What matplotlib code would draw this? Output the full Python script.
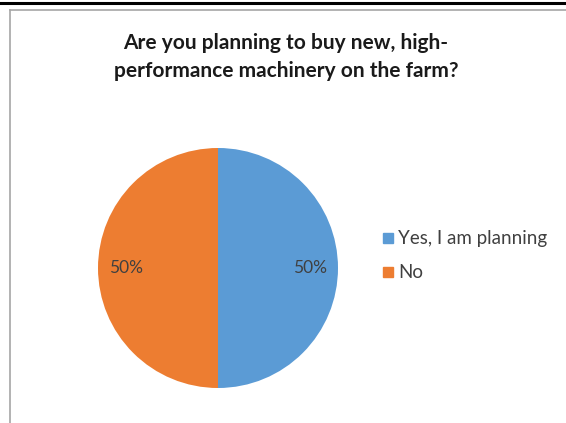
import matplotlib.pyplot as plt
from matplotlib.lines import Line2D

plt.rcParams['font.family'] = ['Lato', 'DejaVu Sans']

labels = ['Yes, I am planning', 'No']
shares = [50, 50]
colors = ['#5B9BD5', '#ED7D31']
title = 'Are you planning to buy new, high-\nperformance machinery on the farm?'

W, H = 566, 423
fig = plt.figure(figsize=(W / 100, H / 100), dpi=100)

# frame lines around the chart area
fig.add_artist(Line2D([0, 1], [1 - 3 / H, 1 - 3 / H], color='black', lw=2.2))
fig.add_artist(Line2D([10 / W, 1], [1 - 10 / H, 1 - 10 / H], color='#a6a6a6', lw=1.2))
fig.add_artist(Line2D([10 / W, 10 / W], [0, 1 - 10 / H], color='#a6a6a6', lw=1.2))

fig.text(286 / W, 1 - 57 / H, title, ha='center', va='center', fontsize=15,
         fontweight='bold', color='#1a1a1a', linespacing=1.5)

# pie: center (218, 268) px, radius 120 px
cx, cy, r = 218, 268, 120
ax = fig.add_axes([(cx - r) / W, (H - cy - r) / H, 2 * r / W, 2 * r / H])
wedges, texts, autotexts = ax.pie(shares, colors=colors, startangle=90, counterclock=False,
                                  autopct='%1.0f%%', pctdistance=0.77,
                                  textprops={'fontsize': 12.5, 'color': '#404040'})
ax.set_xlim(-1, 1)
ax.set_ylim(-1, 1)
ax.set_aspect('auto')
ax.axis('off')

# legend
for i, (lab, col) in enumerate(zip(labels, colors)):
    y = 1 - (238 + i * 34) / H
    fig.patches.append(plt.Rectangle((383 / W, y - 5 / H), 10 / W, 10 / H, color=col,
                                     transform=fig.transFigure, figure=fig))
    fig.text(398 / W, y, lab, ha='left', va='center', fontsize=13.5, color='#404040')

fig.savefig('out.png', dpi=100)
